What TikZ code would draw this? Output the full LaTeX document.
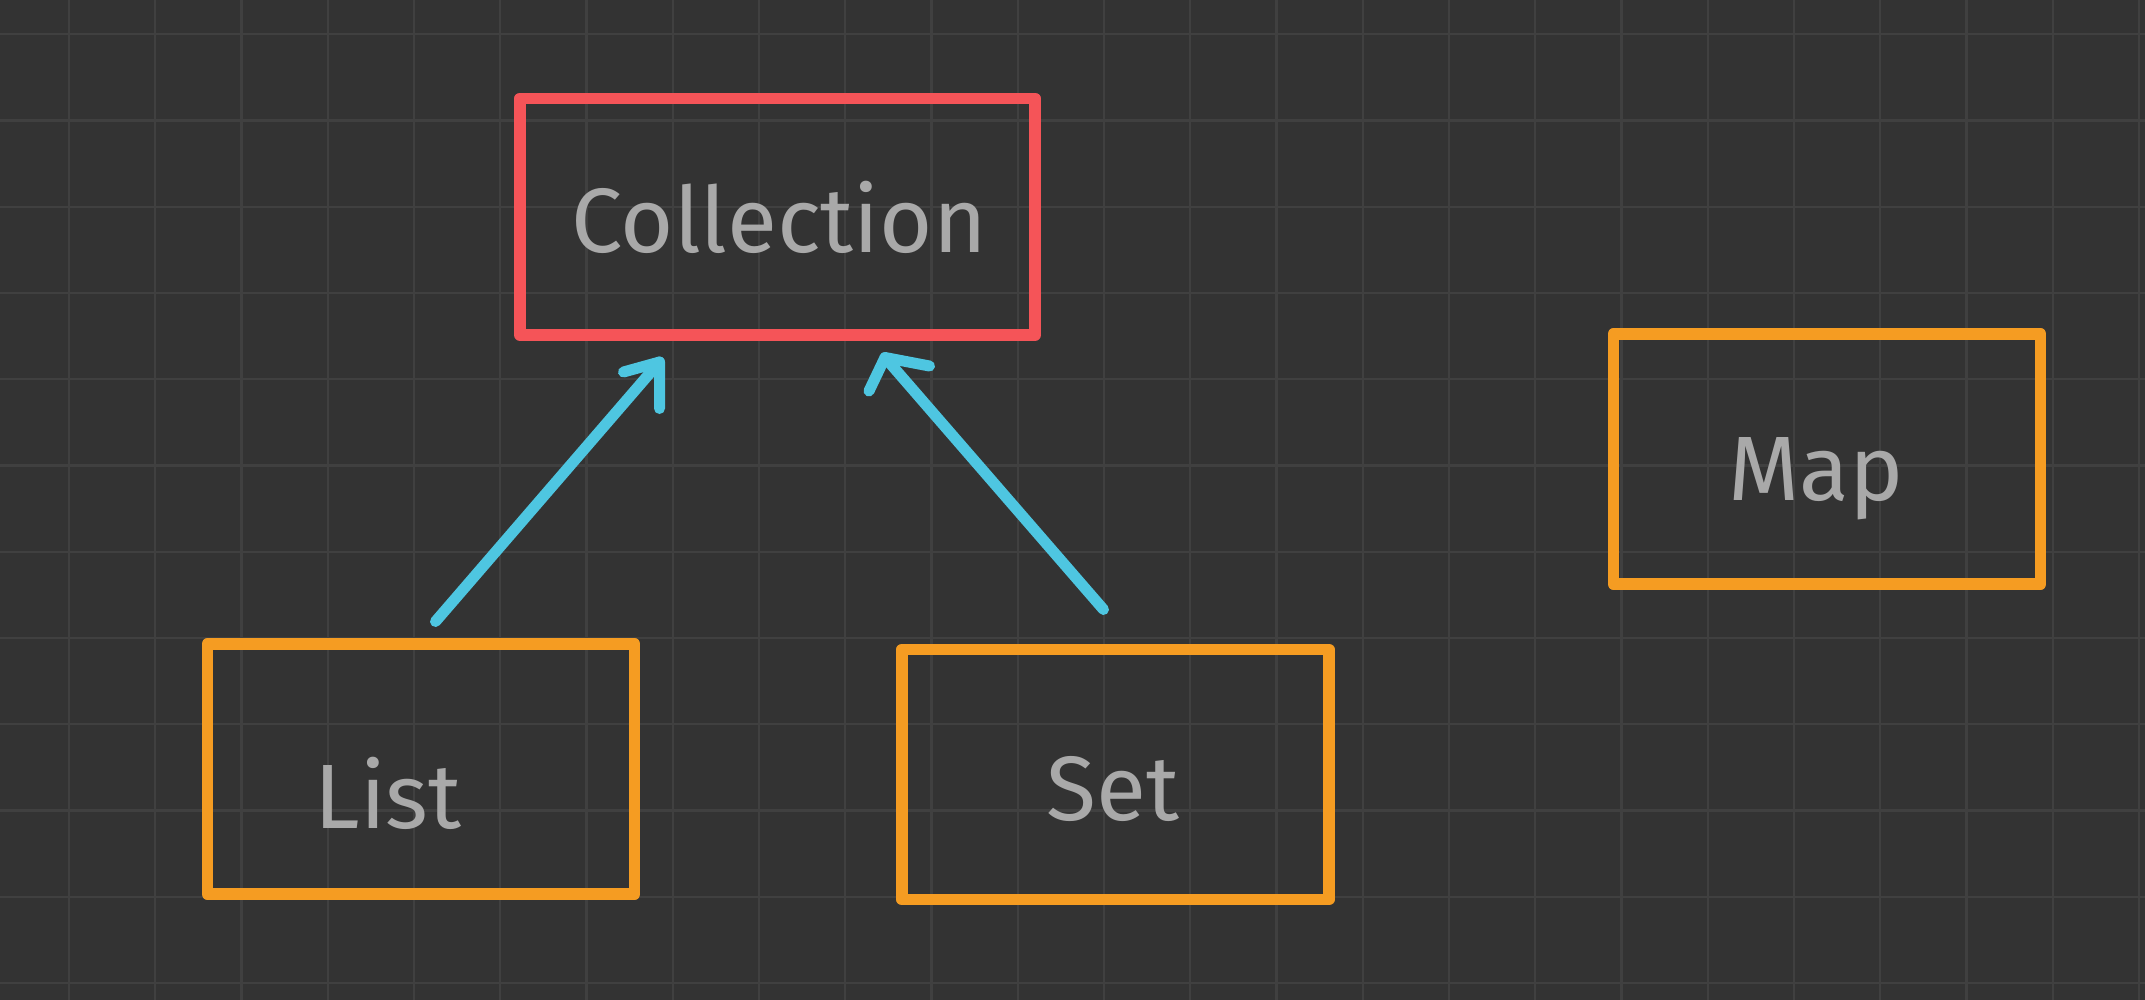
\documentclass[tikz,border=0pt]{standalone}
\usepackage{fontspec}
\setmainfont{Fira Sans}
\definecolor{bgc}{HTML}{333333}
\definecolor{gridc}{HTML}{404040}
\definecolor{cred}{HTML}{F55458}
\definecolor{corange}{HTML}{F59C22}
\definecolor{cblue}{HTML}{4EC6E1}
\definecolor{ctext}{HTML}{A9A9A9}
\tikzset{
  gridline/.style={draw=gridc, line width=0.022cm},
  ibox/.style={rectangle, line width=0.115cm, line join=round, inner sep=0pt, fill=none},
  redbox/.style={ibox, draw=cred},
  orangebox/.style={ibox, draw=corange, minimum width=4.27cm, minimum height=2.50cm},
  lbl/.style={anchor=base, inner sep=0pt, text=ctext, font=\fontsize{26}{30}\selectfont},
  conn/.style={draw=cblue, line width=0.11cm, line cap=round, line join=round},
}
\begin{document}
\begin{tikzpicture}[x=0.01cm, y=-0.01cm]
  \useasboundingbox (0,0) rectangle (2145,1000);
  \fill[bgc] (0,0) rectangle (2145,1000);
  % grid
  \foreach \i in {0,...,24} \draw[gridline] ({69+86.25*\i},0) -- ({69+86.25*\i},1000);
  \foreach \j in {0,...,11} \draw[gridline] (0,{34.3+86.25*\j}) -- (2145,{34.3+86.25*\j});
  % boxes
  \node[redbox, minimum width=5.15cm, minimum height=2.365cm] (coll) at (777.5,216.75) {};
  \node[orangebox] (list) at (421,769) {};
  \node[orangebox] (set) at (1115.4,774.5) {};
  \node[orangebox] (map) at (1827,459) {};
  % labels
  \node[lbl] (colltxt) at (779,252) {Collection};
  \node[lbl] (listtxt) at (388,828) {List};
  \node[lbl] (settxt) at (1113,820) {Set};
  \node[lbl] (maptxt) at (1816,500) {Map};
  % arrow List -> Collection
  \coordinate (a1s) at (435.5,621.5);
  \coordinate (a1t) at (659.5,362);
  \coordinate (a1b1) at (623.5,372);
  \coordinate (a1b2) at (659.5,408.5);
  \draw[conn] (a1s) -- (a1t);
  \draw[conn] (a1b1) -- (a1t) -- (a1b2);
  % arrow Set -> Collection
  \coordinate (a2s) at (1103.5,609.5);
  \coordinate (a2t) at (885,357.5);
  \coordinate (a2b1) at (869,391);
  \coordinate (a2b2) at (929.5,366);
  \draw[conn] (a2s) -- (a2t);
  \draw[conn] (a2b1) -- (a2t) -- (a2b2);
\end{tikzpicture}
\end{document}
